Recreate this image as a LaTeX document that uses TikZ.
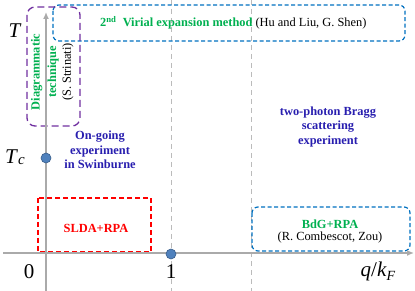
\documentclass[tikz,border=0pt]{standalone}
\usepackage{fontspec}
\setmainfont{Liberation Serif}
\usetikzlibrary{arrows.meta}
\definecolor{vgreen}{RGB}{0,176,80}
\definecolor{dblue}{RGB}{40,30,175}
\definecolor{boxblue}{RGB}{0,112,192}
\definecolor{purp}{RGB}{112,48,160}
\definecolor{axgray}{RGB}{170,170,170}
\definecolor{dotblue}{RGB}{79,129,189}
\definecolor{dotedge}{RGB}{56,93,138}
\tikzset{
  axis/.style={draw=axgray, line width=1.6pt, -{Latex[length=7pt,width=6pt]}},
  guide/.style={draw=axgray!80, line width=0.9pt, dash pattern=on 5pt off 4pt},
  bluebox/.style={draw=boxblue, line width=1.2pt, dash pattern=on 4pt off 2.5pt, rounded corners=6pt},
  purpbox/.style={draw=purp, line width=1.3pt, dash pattern=on 7pt off 4pt, rounded corners=8pt},
  redbox/.style={draw=red, line width=1.3pt, dash pattern=on 5pt off 3pt},
  dot/.style={circle, fill=dotblue, draw=dotedge, line width=0.6pt, inner sep=0pt, minimum size=10pt},
  lbl/.style={font=\fontsize{12.4}{14.5}\selectfont\bfseries, align=center, inner sep=0pt},
  reg/.style={font=\fontsize{12.4}{14.5}\selectfont, align=center, inner sep=0pt},
  axlbl/.style={font=\fontsize{21}{21}\selectfont, inner sep=0pt}
}
\begin{document}
\begin{tikzpicture}[x=1pt,y=-1pt]
\useasboundingbox (0,0) rectangle (415,291);
% guides
\coordinate (g1t) at (171,0); \coordinate (g1b) at (171,291);
\coordinate (g2t) at (251,0); \coordinate (g2b) at (251,291);
\draw[guide] (g1t) -- (g1b);
\draw[guide] (g2t) -- (g2b);
% boxes
\draw[bluebox] (53,5) rectangle (405,41);
\draw[purpbox] (27,7) rectangle (80,126);
\draw[redbox] (38,198) rectangle (151,252);
\draw[bluebox] (252,207) rectangle (410,251);
% axes
\coordinate (yb) at (46,291); \coordinate (yt) at (46,12);
\coordinate (xl) at (3,253); \coordinate (xr) at (414,253);
\draw[axis] (yb) -- (yt);
\draw[axis] (xl) -- (xr);
% dots
\node[dot] (tc) at (46,158) {};
\node[dot] (one) at (171,254) {};
% axis labels
\node[axlbl] (T) at (15,31) {\textit{T}};
\node[axlbl] (Tc) at (15,157) {\textit{T}\raisebox{-1pt}{\fontsize{15}{15}\selectfont\textit{c}}};
\node[axlbl] (zero) at (29,272) {0};
\node[axlbl] (onel) at (171,272) {1};
\node[axlbl] (qk) at (378,271) {\textit{q}/\textit{k}\raisebox{-4pt}{\fontsize{14}{14}\selectfont\textit{F}}};
% texts
\node[lbl, anchor=west] (virial) at (100,23) {\textcolor{vgreen}{2\textsuperscript{nd}~~Virial expansion method}~\mdseries(Hu and Liu, G. Shen)};
\node[lbl, text=vgreen, rotate=90] (diag) at (45,72) {Diagrammatic\\[2pt]technique};
\node[reg, rotate=90] (strin) at (68,72) {(S. Strinati)};
\node[lbl, text=dblue] (ongo) at (100,150) {On-going\\experiment\\in Swinburne};
\node[lbl, text=red] (slda) at (96,228) {SLDA+RPA};
\node[lbl, text=dblue] (bragg) at (328,127) {two-photon Bragg\\scattering\\experiment};
\node[lbl, text=vgreen] (bdg) at (330,224) {BdG+RPA};
\node[reg] (comb) at (330,238) {(R. Combescot, Zou)};
\end{tikzpicture}
\end{document}
